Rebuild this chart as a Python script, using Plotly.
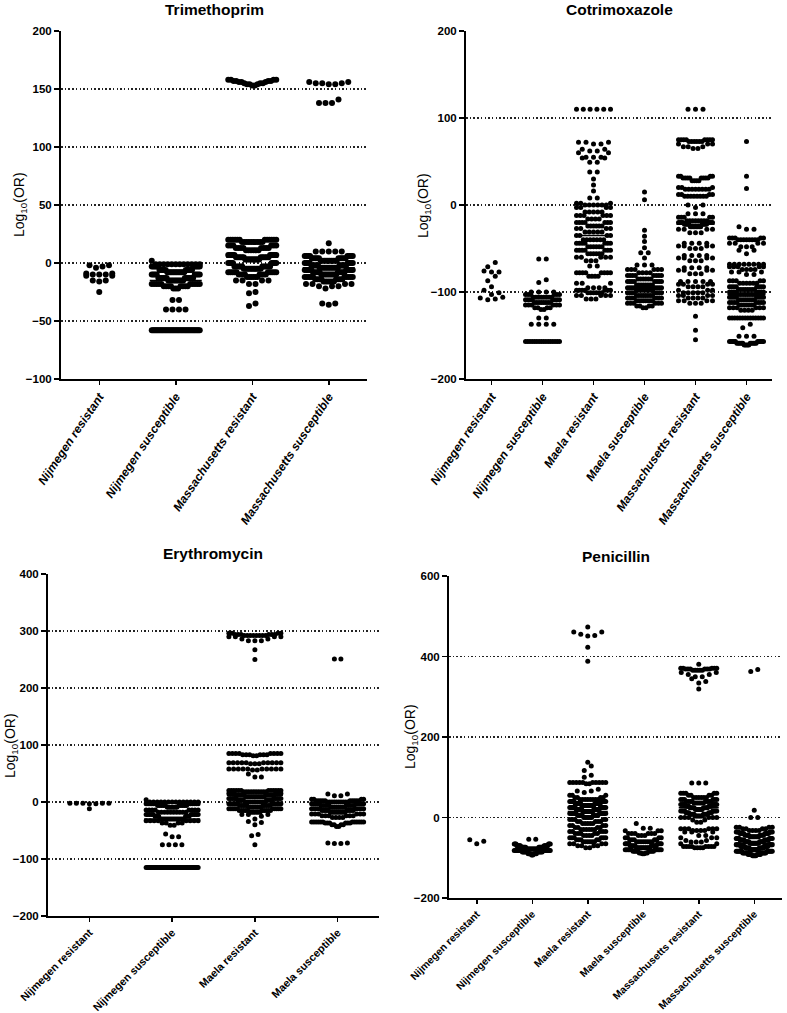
import plotly.graph_objects as go


def rep(pairs):
    out = []
    for v, c in pairs:
        out.extend([v] * c)
    return out


# ---------------- categories ----------------
TMP_CATS = ["Nijmegen resistant", "Nijmegen susceptible",
            "Massachusetts resistant", "Massachusetts susceptible"]
COT_CATS = ["Nijmegen resistant", "Nijmegen susceptible", "Maela resistant",
            "Maela susceptible", "Massachusetts resistant", "Massachusetts susceptible"]
ERY_CATS = ["Nijmegen resistant", "Nijmegen susceptible",
            "Maela resistant", "Maela susceptible"]
PEN_CATS = COT_CATS

# ---------------- Trimethoprim (Log10 OR values) ----------------
TMP_NIJ_RES = [-2, -2, -3, -4, -9, -10, -10, -11, -10, -11, -9, -15, -16, -15, -25]
TMP_NIJ_SUS = rep([(2, 1), (-1, 12), (-3, 10), (-6, 10), (-8, 12), (-10, 8), (-13, 12),
                   (-15, 10), (-18, 10), (-20, 8), (-22, 3), (-32, 2), (-40, 4), (-58, 40)])
TMP_MAS_RES = rep([(158, 4), (157, 4), (156, 3), (155, 3), (154, 3), (153, 2),
                   (20, 12), (18, 10), (15, 6), (13, 8), (11, 6), (7, 10), (5, 12), (3, 10),
                   (0, 8), (-3, 12), (-5, 12), (-8, 10), (-10, 8), (-12, 6), (-15, 4),
                   (-18, 2), (-25, 1), (-26, 1), (-35, 1), (-37, 1)])
TMP_MAS_SUS = rep([(156, 2), (155, 3), (154, 2), (141, 1), (138, 3), (17, 1), (10, 5),
                   (6, 8), (4, 10), (2, 10), (0, 8), (-2, 10), (-4, 12), (-6, 10), (-8, 10),
                   (-10, 10), (-12, 10), (-14, 8), (-16, 6), (-18, 4), (-20, 3), (-22, 1),
                   (-35, 2), (-36, 1)])

# ---------------- Cotrimoxazole ----------------
COT_NIJ_RES = [-66, -71, -76, -77, -77, -82, -87, -94, -98, -101, -103, -106, -108, -109, -107]
COT_NIJ_SUS = rep([(-62, 2), (-86, 1), (-89, 1), (-100, 4), (-103, 6), (-106, 8), (-109, 8),
                   (-112, 8), (-115, 6), (-118, 4), (-120, 2), (-130, 2), (-137, 4), (-157, 16)])
COT_MAE_RES = rep([(110, 6), (72, 3), (70, 2), (64, 2), (62, 2), (60, 2), (55, 3), (54, 2),
                   (49, 2), (38, 2), (30, 1), (23, 1), (16, 1), (8, 2), (2, 3), (0, 6),
                   (-3, 4), (-8, 5), (-12, 6), (-16, 4), (-20, 7), (-24, 6), (-27, 4),
                   (-31, 5), (-35, 4), (-40, 7), (-44, 7), (-48, 6), (-52, 7), (-56, 6),
                   (-60, 5), (-64, 3), (-70, 2), (-78, 8), (-82, 4), (-90, 3), (-95, 4),
                   (-98, 7), (-101, 6), (-104, 5), (-108, 3)])
COT_MAE_SUS = rep([(15, 1), (6, 1), (-29, 1), (-36, 1), (-42, 1), (-49, 1), (-55, 2),
                   (-61, 1), (-69, 3), (-74, 6), (-78, 4), (-81, 8), (-85, 6), (-88, 8),
                   (-92, 8), (-95, 8), (-98, 8), (-101, 8), (-104, 8), (-107, 8),
                   (-110, 8), (-113, 6), (-116, 4), (-118, 2)])
COT_MAS_RES = rep([(110, 3), (75, 8), (73, 6), (70, 3), (67, 3), (65, 2), (33, 4), (31, 8),
                   (28, 4), (20, 3), (18, 8), (12, 4), (10, 8), (0, 2), (-3, 1), (-10, 3),
                   (-14, 5), (-18, 8), (-20, 8), (-22, 8), (-25, 8), (-28, 4), (-32, 3),
                   (-44, 4), (-47, 4), (-50, 3), (-58, 4), (-61, 4), (-64, 3), (-72, 4),
                   (-75, 4), (-79, 3), (-88, 5), (-91, 4), (-94, 4), (-98, 3), (-101, 5),
                   (-104, 4), (-107, 4), (-110, 4), (-113, 3), (-128, 1), (-144, 1),
                   (-155, 1)])
COT_MAS_SUS = rep([(73, 1), (33, 1), (19, 1), (-25, 1), (-28, 2), (-38, 5), (-40, 8),
                   (-44, 4), (-48, 3), (-52, 2), (-56, 1), (-68, 8), (-71, 5), (-74, 4),
                   (-77, 3), (-80, 2), (-87, 5), (-90, 6), (-94, 8), (-97, 8), (-100, 8),
                   (-103, 8), (-106, 8), (-109, 8), (-112, 8), (-115, 7), (-118, 6),
                   (-121, 4), (-130, 14), (-137, 1), (-141, 1), (-151, 3), (-157, 10),
                   (-159, 10), (-161, 4)])

# ---------------- Erythromycin ----------------
ERY_NIJ_RES = [-2, -2, -3, -3, -2, -2, -2, -12]
ERY_NIJ_SUS = rep([(4, 1), (0, 14), (-3, 12), (-6, 10), (-9, 6), (-14, 8), (-18, 10),
                   (-22, 10), (-25, 6), (-30, 14), (-33, 8), (-37, 4), (-41, 2), (-56, 1),
                   (-61, 2), (-75, 4), (-115, 45)])
ERY_MAE_RES = rep([(296, 4), (294, 6), (292, 8), (290, 4), (286, 2), (283, 3), (267, 1),
                   (250, 1), (85, 8), (83, 6), (81, 2), (69, 10), (67, 3), (58, 10),
                   (56, 2), (49, 1), (44, 2), (20, 12), (18, 10), (15, 8), (12, 12),
                   (9, 12), (6, 10), (3, 8), (0, 12), (-3, 12), (-6, 10), (-9, 8),
                   (-12, 10), (-15, 10), (-18, 6), (-22, 3), (-25, 1), (-30, 1), (-34, 1),
                   (-36, 1), (-40, 1), (-57, 1), (-59, 1), (-75, 1)])
ERY_MAE_SUS = rep([(251, 2), (14, 2), (11, 2), (5, 4), (2, 10), (0, 10), (-3, 10),
                   (-6, 10), (-9, 8), (-12, 10), (-15, 8), (-18, 8), (-21, 6), (-24, 6),
                   (-27, 4), (-35, 12), (-37, 6), (-40, 4), (-43, 2), (-72, 2), (-73, 2)])

# ---------------- Penicillin ----------------
PEN_NIJ_RES = [-55, -65, -59]
PEN_NIJ_SUS = rep([(-54, 2), (-66, 6), (-70, 10), (-74, 12), (-78, 14), (-82, 14),
                   (-86, 10), (-90, 6), (-93, 2)])
PEN_MAE_RES = rep([(473, 1), (461, 2), (455, 1), (452, 1), (451, 1), (423, 1), (388, 1),
                   (137, 1), (128, 1), (117, 1), (105, 1), (100, 1), (87, 10), (84, 2),
                   (70, 1), (66, 2), (62, 1), (55, 3), (50, 4), (45, 8), (40, 10),
                   (35, 12), (30, 12), (25, 12), (20, 12), (15, 10), (10, 10), (5, 8),
                   (0, 6), (-5, 5), (-10, 5), (-15, 5), (-20, 4), (-25, 4), (-30, 6),
                   (-35, 5), (-40, 5), (-45, 4), (-50, 6), (-55, 5), (-60, 6), (-65, 4),
                   (-70, 4), (-75, 2)])
PEN_MAE_SUS = rep([(-15, 1), (-27, 2), (-33, 3), (-40, 6), (-45, 3), (-50, 4), (-55, 5),
                   (-60, 8), (-65, 8), (-70, 10), (-75, 12), (-80, 10), (-84, 8),
                   (-88, 4), (-90, 2)])
PEN_MAS_RES = rep([(381, 1), (371, 5), (369, 6), (366, 5), (360, 2), (355, 2), (350, 2),
                   (345, 1), (338, 1), (334, 1), (319, 1), (86, 3), (60, 5), (55, 4),
                   (50, 6), (45, 6), (40, 8), (36, 6), (32, 8), (28, 6), (24, 8), (20, 6),
                   (16, 8), (12, 6), (8, 8), (4, 6), (0, 6), (-6, 2), (-12, 2), (-28, 6),
                   (-32, 4), (-36, 3), (-45, 2), (-50, 3), (-57, 2), (-61, 3), (-65, 2),
                   (-72, 8), (-75, 4)])
PEN_MAS_SUS = rep([(368, 1), (363, 1), (18, 1), (0, 2), (-24, 4), (-28, 4), (-32, 4),
                   (-36, 6), (-40, 8), (-44, 8), (-48, 8), (-52, 8), (-56, 10), (-60, 10),
                   (-64, 10), (-68, 12), (-72, 12), (-76, 12), (-80, 12), (-84, 12),
                   (-88, 10), (-92, 8), (-95, 4)])

# ---------------- layout helpers ----------------
FW, FH = 787, 1013
FONT = "Liberation Sans, Arial, sans-serif"


def swarm(values, ppu, d, s0, W):
    """Prism-like column scatter: bin values into rows of one symbol height,
    spread each row horizontally, lowest value at the centre."""
    vals = sorted(values)
    n = len(vals)
    offs, ys = [], []
    i = 0
    while i < n:
        j = i
        while j < n and (vals[j] - vals[i]) * ppu < d:
            j += 1
        row = vals[i:j]
        m = len(row)
        s = s0 if m < 2 else min(s0, 2 * W / (m - 1))
        pos = []
        for k in range(m):
            idx = (k + 1) // 2
            sign = 1 if k % 2 else -1
            pos.append(sign * idx * s)
        shift = (max(pos) + min(pos)) / 2
        offs += [p - shift for p in pos]
        ys += row
        i = j
    return offs, ys


panels = [
    dict(title="Trimethoprim", cats=TMP_CATS,
         groups=[TMP_NIJ_RES, TMP_NIJ_SUS, TMP_MAS_RES, TMP_MAS_SUS],
         box=(61, 367, 31, 379), yr=(-100, 200), dtick=50, d=6, s0=6.5, W=24,
         angle=-56, italic=True, tsize=12, title_xy=(214, 9), ytitle_xy=(20, 205)),
    dict(title="Cotrimoxazole", cats=COT_CATS,
         groups=[COT_NIJ_RES, COT_NIJ_SUS, COT_MAE_RES, COT_MAE_SUS, COT_MAS_RES, COT_MAS_SUS],
         box=(466, 772, 31, 379), yr=(-200, 200), dtick=100, d=5, s0=7.5, W=17,
         angle=-56, italic=True, tsize=12, title_xy=(619, 9), ytitle_xy=(424, 205)),
    dict(title="Erythromycin", cats=ERY_CATS,
         groups=[ERY_NIJ_RES, ERY_NIJ_SUS, ERY_MAE_RES, ERY_MAE_SUS],
         box=(48, 379, 574, 916), yr=(-200, 400), dtick=100, d=5, s0=6.5, W=26,
         angle=-45, italic=False, tsize=10.8, title_xy=(213.5, 553), ytitle_xy=(11, 746)),
    dict(title="Penicillin", cats=PEN_CATS,
         groups=[PEN_NIJ_RES, PEN_NIJ_SUS, PEN_MAE_RES, PEN_MAE_SUS, PEN_MAS_RES, PEN_MAS_SUS],
         box=(449, 782, 576, 898), yr=(-200, 600), dtick=200, d=5, s0=7, W=18,
         angle=-45, italic=False, tsize=10.4, title_xy=(615.5, 556), ytitle_xy=(411, 737)),
]

fig = go.Figure()
layout = dict(width=FW, height=FH, autosize=False,
              margin=dict(l=0, r=0, t=0, b=0, pad=0, autoexpand=False),
              paper_bgcolor="white", plot_bgcolor="white", showlegend=False,
              annotations=[])

for i, p in enumerate(panels):
    k = "" if i == 0 else str(i + 1)
    x0, x1, y0, y1 = p["box"]
    ncat = len(p["cats"])
    ppc = (x1 - x0) / ncat
    ppu = (y1 - y0) / (p["yr"][1] - p["yr"][0])
    for gi, vals in enumerate(p["groups"]):
        offs, ys = swarm(vals, ppu, p["d"], p["s0"], p["W"])
        fig.add_trace(go.Scatter(
            x=[gi + o / ppc for o in offs], y=ys, mode="markers",
            marker=dict(size=p["d"], color="black", line=dict(width=0)),
            xaxis="x" + k, yaxis="y" + k, hoverinfo="skip"))
        if len(vals) >= 100:
            sv = sorted(vals)
            n = len(sv)
            med = sv[n // 2] if n % 2 else (sv[n // 2 - 1] + sv[n // 2]) / 2
            hw = (p["W"] + 2) / ppc
            fig.add_trace(go.Scatter(
                x=[gi - hw, gi + hw], y=[med, med], mode="lines",
                line=dict(color="black", width=1.5),
                xaxis="x" + k, yaxis="y" + k, hoverinfo="skip"))

    tickfont = dict(family=FONT, size=p["tsize"], color="black", weight="bold")
    if p["italic"]:
        tickfont["style"] = "italic"
    layout["xaxis" + k] = dict(
        domain=[x0 / FW, x1 / FW], anchor="y" + k, automargin=False,
        range=[-0.5, ncat - 0.5], tickmode="array",
        tickvals=list(range(ncat)), ticktext=p["cats"], tickangle=p["angle"],
        tickfont=tickfont, showline=True, linecolor="black", linewidth=2,
        ticks="outside", ticklen=4, tickwidth=1.5, tickcolor="black",
        showgrid=False, zeroline=False, fixedrange=True)
    layout["yaxis" + k] = dict(
        domain=[1 - y1 / FH, 1 - y0 / FH], anchor="x" + k, automargin=False,
        range=list(p["yr"]), tick0=0, dtick=p["dtick"],
        tickfont=dict(family=FONT, size=11.5, color="black", weight="bold"),
        showline=True, linecolor="black", linewidth=2,
        ticks="outside", ticklen=5, tickwidth=1.5, tickcolor="black",
        showgrid=True, gridcolor="#222222", gridwidth=1.5, griddash="1.5px,2.2px",
        zeroline=False, fixedrange=True)
    tx, ty = p["title_xy"]
    layout["annotations"].append(dict(
        text="<b>" + p["title"] + "</b>", x=tx / FW, y=1 - ty / FH,
        xref="paper", yref="paper", xanchor="center", yanchor="middle",
        showarrow=False, font=dict(family=FONT, size=15.5, color="black")))
    ax, ay = p["ytitle_xy"]
    layout["annotations"].append(dict(
        text="Log<sub>10</sub>(OR)", x=ax / FW, y=1 - ay / FH,
        xref="paper", yref="paper", xanchor="center", yanchor="middle",
        textangle=-90, showarrow=False,
        font=dict(family=FONT, size=14, color="black")))

fig.update_layout(**layout)
fig.write_html(
    "out.html",
    config={"displayModeBar": False, "staticPlot": True},
    post_script="document.body.style.margin='0';document.body.style.padding='0';"
                "document.body.style.overflow='hidden';")
